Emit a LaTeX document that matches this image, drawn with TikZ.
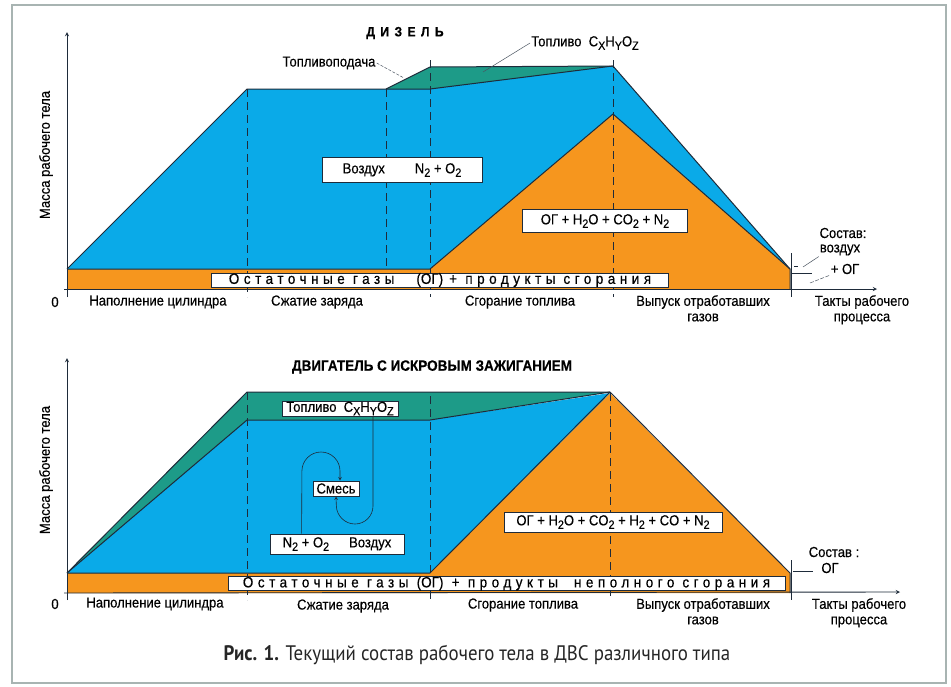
\documentclass[tikz,border=0pt]{standalone}
\usepackage{fontspec}
\setmainfont{Liberation Sans}
\newfontfamily\lab{Liberation Sans}[FakeStretch=0.9,FakeBold=0.3]
\newfontfamily\spc{Liberation Sans}[FakeStretch=0.9,FakeBold=0.4,LetterSpace=30]
\newfontfamily\capt{PT Sans}[FakeStretch=0.9]
\usetikzlibrary{positioning}

\definecolor{bodyblue}{HTML}{0AAAE8}
\definecolor{gasorange}{HTML}{F6961E}
\definecolor{fuelgreen}{HTML}{1D9B88}
\definecolor{outl}{HTML}{1E2B3A}
\definecolor{framegray}{HTML}{A8B4B2}

\newcommand\lowr[1]{\raisebox{-0.45ex}{\fontsize{12}{12}\selectfont #1}}
\newcommand\og{{\lab (ОГ)}}

\tikzset{
  stroke/.style={draw=outl, line width=1pt, line join=round},
  divider/.style={draw=outl, line width=0.8pt, dash pattern=on 8pt off 5pt},
  axis/.style={draw=outl, line width=0.9pt, ->, >=stealth},
  leader/.style={draw=outl!80, line width=0.5pt},
  lbl/.style={font=\lab\fontsize{14.5}{15.5}\selectfont, inner sep=1pt, align=center},
  gasbox/.style={draw=outl, fill=white, line width=0.8pt, inner sep=1.5pt,
    font=\lab\fontsize{14.5}{15}\selectfont},
  bandbox/.style={draw=outl, fill=white, line width=0.8pt, inner sep=0pt,
    font=\spc\fontsize{15}{15}\selectfont},
  heading/.style={font=\lab\bfseries\fontsize{15}{16}\selectfont}
}

\begin{document}
\begin{tikzpicture}[x=1pt, y=-1pt]
\useasboundingbox (0,0) rectangle (951,686);
\fill[white] (0,0) rectangle (951,686);
\draw[framegray, line width=2.5pt] (12,5) rectangle (946,683);

% ---- diesel ----
\fill[gasorange] (67,289) -- (67,269) -- (430,269) -- (613,114) -- (790,269) -- (790,289) -- cycle;
\fill[bodyblue] (67,269) -- (247,89) -- (430,89) -- (613,66) -- (790,269) -- (613,114) -- (430,269) -- cycle;
\fill[fuelgreen] (386,89) -- (430,67) -- (613,66) -- (430,89) -- cycle;
\draw[stroke] (67,269) -- (247,89) -- (386,89) -- (430,67) -- (613,66) -- (790,269);
\draw[stroke] (386,89) -- (430,89) -- (613,66);
\draw[stroke] (67,269) -- (430,269) -- (613,114) -- (790,269) -- (790,289);
\foreach \x/\a/\b in {247/89/297, 386/89/269, 430/60/297, 613/60/297}
  \draw[divider] (\x,\a) -- (\x,\b);
\draw[outl, line width=0.8pt] (791,253) -- (791,297);
\draw[axis] (67,297) -- (67,32);
\draw[axis] (64,289) -- (877,289);

\node[heading, font=\lab\bfseries\fontsize{13.5}{14}\selectfont\addfontfeature{LetterSpace=40}] (dtitle) at (405,33) {ДИЗЕЛЬ};
\node[lbl] (podacha) at (329,63) {Топливоподача};
\coordinate (podachapt) at (404,78);
\draw[leader, dash pattern=on 3pt off 1.5pt] (podacha.east) -- (podachapt);
\node[lbl] (dfuel) at (585,43) {Топливо\ \ C\lowr{X}H\lowr{Y}O\lowr{Z}};
\coordinate (dfuelpt) at (483,72);
\draw[leader] (dfuel.west) -- (dfuelpt);
\node[gasbox, minimum width=160pt, minimum height=25pt] (dair) at (402,170)
  {Воздух\hspace{30pt}N\lowr{2} + O\lowr{2}};
\node[gasbox, minimum width=165pt, minimum height=23pt] (dexh) at (605,221)
  {ОГ + H\lowr{2}O + CO\lowr{2} + N\lowr{2}};
\node[bandbox, minimum width=457pt, minimum height=13pt] (dband) at (440,280)
  {Остаточные газы\hspace{22pt}\og\hspace{6pt}+ продукты\hspace{8pt}сгорания};

\node[lbl] (dsost) at (843,233) {Состав:};
\node[lbl] (dvozd) at (840,250) {воздух};
\node[lbl] (dog) at (845,269) {+ ОГ};
\draw[outl, line width=0.6pt] (794,266) -- (798,266);
\draw[outl, line width=0.6pt] (792,273) -- (812,273);
\coordinate (dairlvl) at (803,267);
\coordinate (doglvl) at (810,283);
\draw[leader] (dairlvl) -- (dvozd.south west);
\draw[leader, dash pattern=on 4pt off 1.5pt] (doglvl) -- (dog.south west);

\node[lbl] (dzero) at (55,302) {0};
\node[lbl] (dfill) at (158,302) {Наполнение цилиндра};
\node[lbl] (dcomp) at (317,302) {Сжатие заряда};
\node[lbl] (dburn) at (520,302) {Сгорание топлива};
\node[lbl, anchor=north] (dout) at (703,294) {Выпуск отработавших\\газов};
\node[lbl, anchor=north] (dtakt) at (862,294) {Такты рабочего\\процесса};
\node[lbl, rotate=90] (dmass) at (46,155) {Масса рабочего тела};

% ---- spark ignition ----
\fill[gasorange] (67,593) -- (67,573) -- (430,573) -- (610,393) -- (790,573) -- (790,593) -- cycle;
\fill[bodyblue] (67,573) -- (247,420) -- (430,420) -- (610,393) -- (430,573) -- cycle;
\fill[fuelgreen] (67,573) -- (247,392) -- (610,392) -- (430,420) -- (247,420) -- cycle;
\draw[stroke] (67,573) -- (247,392) -- (610,392) -- (790,573) -- (790,593);
\draw[stroke] (67,573) -- (247,420) -- (430,420) -- (610,392);
\draw[stroke] (67,573) -- (430,573) -- (610,392);
\foreach \x/\a in {247/392, 430/396, 610/393}
  \draw[divider] (\x,\a) -- (\x,600);
\draw[outl, line width=0.8pt] (791,560) -- (791,600);
\draw[axis] (67,600) -- (67,358);
\draw[axis] (64,593) -- (900,592);

\node[heading] (stitle) at (432,367) {ДВИГАТЕЛЬ С ИСКРОВЫМ ЗАЖИГАНИЕМ};
\node[gasbox, minimum width=116pt, minimum height=15pt, inner sep=0.5pt] (sfuel) at (340,408.5)
  {Топливо\ \ C\lowr{X}H\lowr{Y}O\lowr{Z}};
\node[gasbox, minimum width=46pt, minimum height=15pt, inner sep=0.5pt] (smix) at (336,488.5) {Смесь};
\node[gasbox, minimum width=134pt, minimum height=20pt] (sair) at (337,544)
  {N\lowr{2} + O\lowr{2}\hspace{20pt}Воздух};
\draw[outl, line width=0.6pt, ->, >=stealth, rounded corners=19pt]
  ([xshift=32pt]sair.north west) -- (302,452) -- (340,452) -- (smix.north -| 340,0);
\draw[outl, line width=0.6pt, ->, >=stealth, rounded corners=18pt]
  (sfuel.south -| 373,0) -- (373,524) -- (337,524) -- (smix.south);
\node[gasbox, minimum width=218pt, minimum height=20pt] (sexh) at (613,522)
  {ОГ + H\lowr{2}O + CO\lowr{2} + H\lowr{2} + CO + N\lowr{2}};
\node[bandbox, minimum width=557pt, minimum height=13pt] (sband) at (506.5,583.5)
  {Остаточные газы \og\ + продукты\hspace{16pt}неполного\hspace{8pt}сгорания};

\node[lbl] (ssost) at (834,552) {Состав :};
\node[lbl] (sog) at (830,568) {ОГ};
\coordinate (soglvl) at (793,571);
\coordinate (sogend) at (813,571);
\draw[outl, line width=0.6pt] (soglvl) -- (sogend);

\node[lbl] (szero) at (55,604) {0};
\node[lbl] (sfill) at (155,604) {Наполнение цилиндра};
\node[lbl] (scomp) at (343,606) {Сжатие заряда};
\node[lbl] (sburn) at (523,605) {Сгорание топлива};
\node[lbl, anchor=north] (sout) at (703,597) {Выпуск отработавших\\газов};
\node[lbl, anchor=north] (stakt) at (859,597) {Такты рабочего\\процесса};
\node[lbl, rotate=90] (smass) at (46,470) {Масса рабочего тела};

\node[font=\capt\fontsize{21}{24}\selectfont, text=black!85] (caption) at (477,655)
  {\textbf{Рис. 1.} Текущий состав рабочего тела в ДВС различного типа};
\end{tikzpicture}
\end{document}
